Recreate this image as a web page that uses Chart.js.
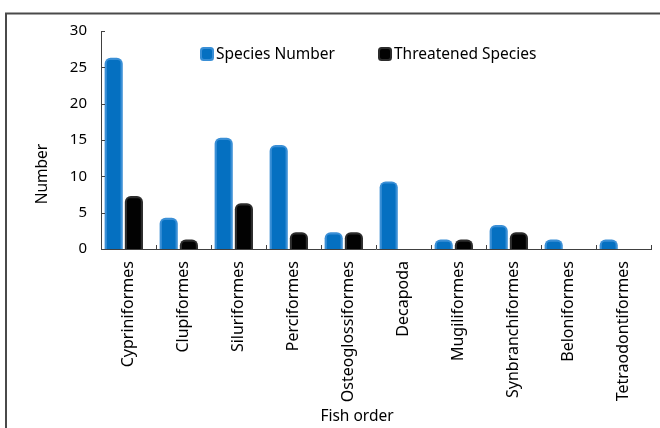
<!DOCTYPE html>
<html>
<head>
<meta charset="utf-8">
<script src="https://cdn.jsdelivr.net/npm/chart.js@4.4.1/dist/chart.umd.min.js"></script>
<style>
  html, body { margin: 0; padding: 0; background: #fff; }
  #wrap { width: 660px; height: 428px; position: relative; }
</style>
</head>
<body>
<div id="wrap"><canvas id="c" width="660" height="428"></canvas></div>
<script>
// Fish orders and counts per order
const orders = ["Cypriniformes", "Clupiformes", "Siluriformes", "Perciformes", "Osteoglossiformes",
                "Decapoda", "Mugiliformes", "Synbranchiformes", "Beloniformes", "Tetraodontiformes"];
const speciesNumber     = [26, 4, 15, 14, 2, 9, 1, 3, 1, 1];
const threatenedSpecies = [7, 1, 6, 2, 2, 0, 1, 2, 0, 0];
const yTicks = [0, 5, 10, 15, 20, 25, 30];

const FONT = "'Noto Sans', 'DejaVu Sans', sans-serif";
const AXIS = '#404040';
const EDGE = ['#3a8fd6', '#2c2c2c'];   // soft outer edge of each series
const HALO = 2.2;                       // width of that edge
const GROUP_SHIFT = -4.7;               // bar pairs sit slightly left of category centre

// Soft outer edge drawn behind every bar, and the group shift
const barEdges = {
  id: 'barEdges',
  beforeDatasetsDraw(chart) {
    const ctx = chart.ctx;
    ctx.save();
    ctx.translate(GROUP_SHIFT, 0);
    chart.data.datasets.forEach((ds, di) => {
      const meta = chart.getDatasetMeta(di);
      meta.data.forEach((bar, i) => {
        if (!ds.data[i]) return;
        const p = bar.getProps(['x', 'y', 'base', 'width'], true);
        ctx.fillStyle = EDGE[di];
        ctx.beginPath();
        ctx.roundRect(p.x - p.width / 2 - HALO, p.y - HALO, p.width + 2 * HALO, p.base - p.y + HALO,
                      [6, 6, 0, 0]);
        ctx.fill();
      });
    });
  },
  afterDatasetsDraw(chart) {
    chart.ctx.restore();
  }
};

// Frame lines, inward tick marks, in-plot legend and axis titles
const decorations = {
  id: 'decorations',
  afterDraw(chart) {
    const ctx = chart.ctx;
    const xs = chart.scales.x, ys = chart.scales.y;
    const area = chart.chartArea;
    ctx.save();

    // outer frame (top and left)
    ctx.strokeStyle = '#4a4a4a';
    ctx.lineWidth = 2;
    ctx.beginPath();
    ctx.moveTo(5, 13.5); ctx.lineTo(660, 13.5);
    ctx.moveTo(6, 13); ctx.lineTo(6, 428);
    ctx.stroke();

    // inward tick marks
    ctx.strokeStyle = AXIS;
    ctx.lineWidth = 1;
    ctx.beginPath();
    yTicks.forEach(v => {
      const y = Math.round(ys.getPixelForValue(v)) + 0.5;
      ctx.moveTo(area.left, y); ctx.lineTo(area.left + 4, y);
    });
    const half = (xs.getPixelForValue(1) - xs.getPixelForValue(0)) / 2;
    for (let i = 0; i <= orders.length; i++) {
      const x = Math.round(xs.getPixelForValue(i) - half) + 0.5;
      ctx.moveTo(x, area.bottom); ctx.lineTo(x, area.bottom - 4);
    }
    ctx.stroke();

    // legend inside the plot
    ctx.font = '15.5px ' + FONT;
    ctx.textBaseline = 'middle';
    ctx.textAlign = 'left';
    const legendItems = [
      { x: 200, di: 0 },
      { x: 378, di: 1 }
    ];
    legendItems.forEach(it => {
      const ds = chart.data.datasets[it.di];
      ctx.fillStyle = EDGE[it.di];
      ctx.beginPath();
      ctx.roundRect(it.x, 47, 14, 14, 3.5);
      ctx.fill();
      ctx.fillStyle = ds.backgroundColor;
      ctx.beginPath();
      ctx.roundRect(it.x + 2, 49, 10, 10, 2);
      ctx.fill();
      ctx.fillStyle = '#000';
      ctx.fillText(ds.label, it.x + 16, 55);
    });

    // axis titles
    ctx.font = '15.5px ' + FONT;
    ctx.fillStyle = '#000';
    ctx.textAlign = 'center';
    ctx.fillText('Fish order', 357, 417);
    ctx.translate(43, 174);
    ctx.rotate(-Math.PI / 2);
    ctx.fillText('Number', 0, 0);
    ctx.restore();
  }
};

new Chart(document.getElementById('c'), {
  type: 'bar',
  data: {
    labels: orders,
    datasets: [
      {
        label: 'Species Number',
        data: speciesNumber,
        backgroundColor: '#0570c1',
        borderWidth: 0,
        borderRadius: 3,
        borderSkipped: 'bottom'
      },
      {
        label: 'Threatened Species',
        data: threatenedSpecies,
        backgroundColor: '#020202',
        borderWidth: 0,
        borderRadius: 3,
        borderSkipped: 'bottom'
      }
    ]
  },
  options: {
    responsive: false,
    animation: false,
    devicePixelRatio: 1,
    categoryPercentage: 0.735,
    barPercentage: 0.68,
    layout: { padding: { top: 31, right: 9, left: 0, bottom: 0 } },
    plugins: {
      legend: { display: false },
      tooltip: { enabled: false }
    },
    scales: {
      x: {
        type: 'category',
        offset: true,
        grid: { display: false, drawTicks: false },
        border: { display: true, color: AXIS, width: 1, z: 1 },
        ticks: {
          autoSkip: false,
          minRotation: 90,
          maxRotation: 90,
          padding: 12,
          color: '#000',
          font: { family: FONT, size: 16 }
        },
        afterFit(s) { s.height = 179; }
      },
      y: {
        min: 0,
        max: 30,
        afterBuildTicks(s) { s.ticks = yTicks.map(v => ({ value: v })); },
        grid: { display: false, drawTicks: false },
        border: { display: true, color: AXIS, width: 1, z: 1 },
        ticks: {
          padding: 14,
          color: '#000',
          font: { family: FONT, size: 15 }
        },
        afterFit(s) { s.width = 101; }
      }
    }
  },
  plugins: [barEdges, decorations]
});
</script>
</body>
</html>
